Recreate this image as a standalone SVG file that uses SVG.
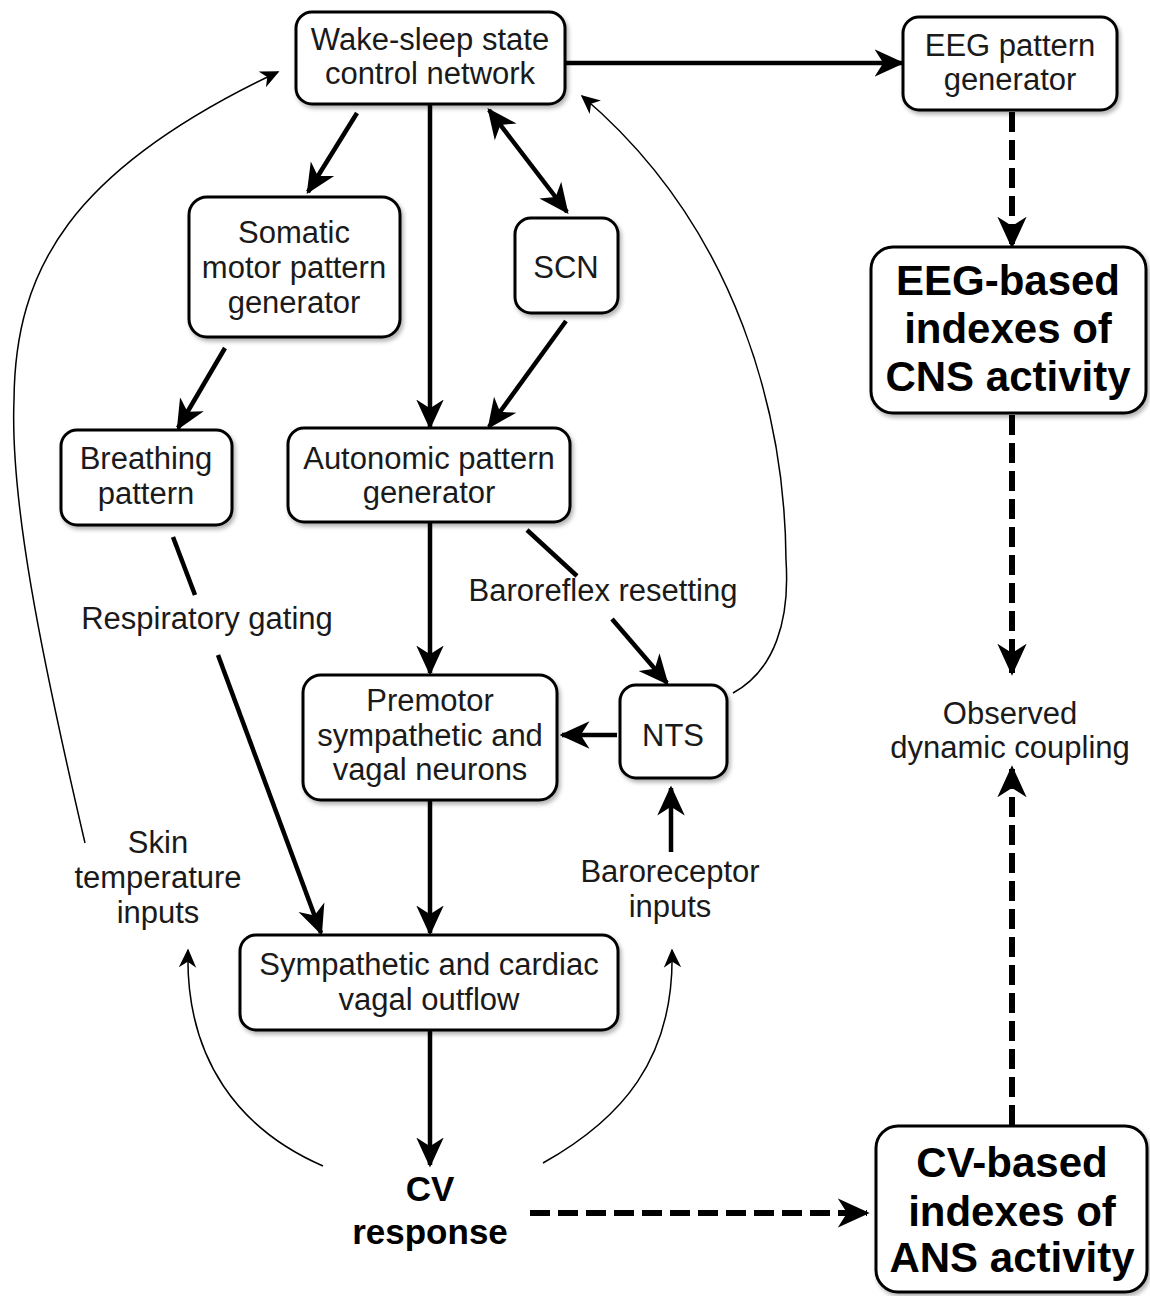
<svg xmlns="http://www.w3.org/2000/svg" width="1150" height="1296" viewBox="0 0 1150 1296">
<defs>
<filter id="sh" x="-10%" y="-10%" width="120%" height="130%">
<feDropShadow dx="2" dy="3" stdDeviation="2" flood-color="#000" flood-opacity="0.3"/>
</filter>
<marker id="ah" viewBox="0 0 24 24" refX="22" refY="12" markerWidth="30" markerHeight="30" markerUnits="userSpaceOnUse" orient="auto-start-reverse">
<path d="M0,1 L24,12 L0,23 L7,12 z" fill="#000"/>
</marker>
<marker id="ahd" viewBox="0 0 24 24" refX="22" refY="12" markerWidth="32" markerHeight="32" markerUnits="userSpaceOnUse" orient="auto">
<path d="M0,1 L24,12 L0,23 L7,12 z" fill="#000"/>
</marker>
<marker id="aht" viewBox="0 0 24 24" refX="22" refY="12" markerWidth="19" markerHeight="19" markerUnits="userSpaceOnUse" orient="auto">
<path d="M0,1 L24,12 L0,23 L7,12 z" fill="#000"/>
</marker>
</defs>
<style>
.box{fill:#fff;stroke:#000;stroke-width:3;filter:url(#sh)}
text{font-family:"Liberation Sans",Arial,sans-serif;fill:#1a1a1a;text-anchor:middle}
.t{font-size:31px}
.b{font-size:42px;font-weight:bold;fill:#000}
.bc{font-size:35px;font-weight:bold;fill:#000}
.thick{fill:none;stroke:#000;stroke-width:4.5;marker-end:url(#ah)}
.dash{fill:none;stroke:#000;stroke-width:6;stroke-dasharray:20 8;marker-end:url(#ahd)}
.thin{fill:none;stroke:#000;stroke-width:1.5;marker-end:url(#aht)}
.seg{fill:none;stroke:#000;stroke-width:4.5}
</style>
<rect width="1150" height="1296" fill="#fff"/>

<g id="connectors">
<line class="thick" x1="566" y1="63" x2="902" y2="63"/>
<line class="thick" x1="357" y1="113" x2="308" y2="192"/>
<line class="thick" x1="430" y1="104" x2="430" y2="427"/>
<line class="thick" x1="489" y1="110" x2="567" y2="212" style="marker-start:url(#ah)"/>
<line class="thick" x1="566" y1="321" x2="489" y2="427"/>
<line class="thick" x1="225" y1="348" x2="178" y2="428"/>
<line class="seg" x1="173" y1="537" x2="195" y2="595"/>
<line class="thick" x1="218" y1="655" x2="321" y2="933"/>
<line class="thick" x1="430" y1="522" x2="430" y2="673"/>
<line class="seg" x1="527" y1="530" x2="577" y2="576"/>
<line class="thick" x1="612" y1="619" x2="667" y2="683"/>
<line class="thick" x1="617" y1="735" x2="562" y2="735"/>
<line class="thick" x1="671" y1="852" x2="671" y2="788"/>
<line class="thick" x1="430" y1="800" x2="430" y2="933"/>
<line class="thick" x1="430" y1="1031" x2="430" y2="1165"/>
<line class="dash" x1="1012" y1="112" x2="1012" y2="246"/>
<line class="dash" x1="1012" y1="415" x2="1012" y2="673"/>
<line class="dash" x1="1012" y1="1125" x2="1012" y2="768"/>
<line class="dash" x1="530" y1="1213" x2="867" y2="1213"/>
<path class="thin" d="M323,1166 C240,1130 185,1060 188,950"/>
<path class="thin" d="M543,1163 C620,1120 675,1060 672,950"/>
<path class="thin" d="M85,843 C40,650 10,500 14,400 C15,270 70,170 278,72"/>
<path class="thin" d="M733,693 C775,670 790,620 786,560 C785,420 740,230 582,96"/>
</g>

<g id="wake"><rect class="box" x="296" y="12" width="269" height="92" rx="16"/>
<text class="t" x="430" y="50">Wake-sleep state</text><text class="t" x="430" y="84">control network</text></g>
<g id="eeg-gen"><rect class="box" x="903" y="17" width="214" height="93" rx="16"/>
<text class="t" x="1010" y="56">EEG pattern</text><text class="t" x="1010" y="90">generator</text></g>
<g id="eeg-idx"><rect class="box" x="871" y="247" width="275" height="166" rx="22"/>
<text class="b" x="1008" y="295">EEG-based</text><text class="b" x="1008" y="343">indexes of</text><text class="b" x="1008" y="391">CNS activity</text></g>
<g id="somatic"><rect class="box" x="189" y="197" width="211" height="140" rx="18"/>
<text class="t" x="294" y="243">Somatic</text><text class="t" x="294" y="278">motor pattern</text><text class="t" x="294" y="313">generator</text></g>
<g id="scn"><rect class="box" x="515" y="218" width="103" height="95" rx="16"/>
<text class="t" x="566" y="278">SCN</text></g>
<g id="breathing"><rect class="box" x="61" y="430" width="171" height="95" rx="16"/>
<text class="t" x="146" y="469">Breathing</text><text class="t" x="146" y="504">pattern</text></g>
<g id="autonomic"><rect class="box" x="288" y="428" width="282" height="94" rx="16"/>
<text class="t" x="429" y="469">Autonomic pattern</text><text class="t" x="429" y="503">generator</text></g>
<g id="premotor"><rect class="box" x="303" y="675" width="254" height="125" rx="18"/>
<text class="t" x="430" y="711">Premotor</text><text class="t" x="430" y="746">sympathetic and</text><text class="t" x="430" y="780">vagal neurons</text></g>
<g id="nts"><rect class="box" x="620" y="685" width="107" height="93" rx="16"/>
<text class="t" x="673" y="746">NTS</text></g>
<g id="outflow"><rect class="box" x="240" y="935" width="378" height="95" rx="16"/>
<text class="t" x="429" y="975">Sympathetic and cardiac</text><text class="t" x="429" y="1010">vagal outflow</text></g>
<g id="cv-idx"><rect class="box" x="876" y="1126" width="271" height="166" rx="22"/>
<text class="b" x="1012" y="1177">CV-based</text><text class="b" x="1012" y="1226">indexes of</text><text class="b" x="1012" y="1272">ANS activity</text></g>
<g id="cv-resp"><text class="bc" x="430" y="1201">CV</text><text class="bc" x="430" y="1244">response</text></g>
<g id="observed"><text class="t" x="1010" y="724">Observed</text><text class="t" x="1010" y="758">dynamic coupling</text></g>
<g id="labels">
<text class="t" x="207" y="629">Respiratory gating</text>
<text class="t" x="603" y="601">Baroreflex resetting</text>
<text class="t" x="158" y="853">Skin</text><text class="t" x="158" y="888">temperature</text><text class="t" x="158" y="923">inputs</text>
<text class="t" x="670" y="882">Baroreceptor</text><text class="t" x="670" y="917">inputs</text>
</g>
</svg>
